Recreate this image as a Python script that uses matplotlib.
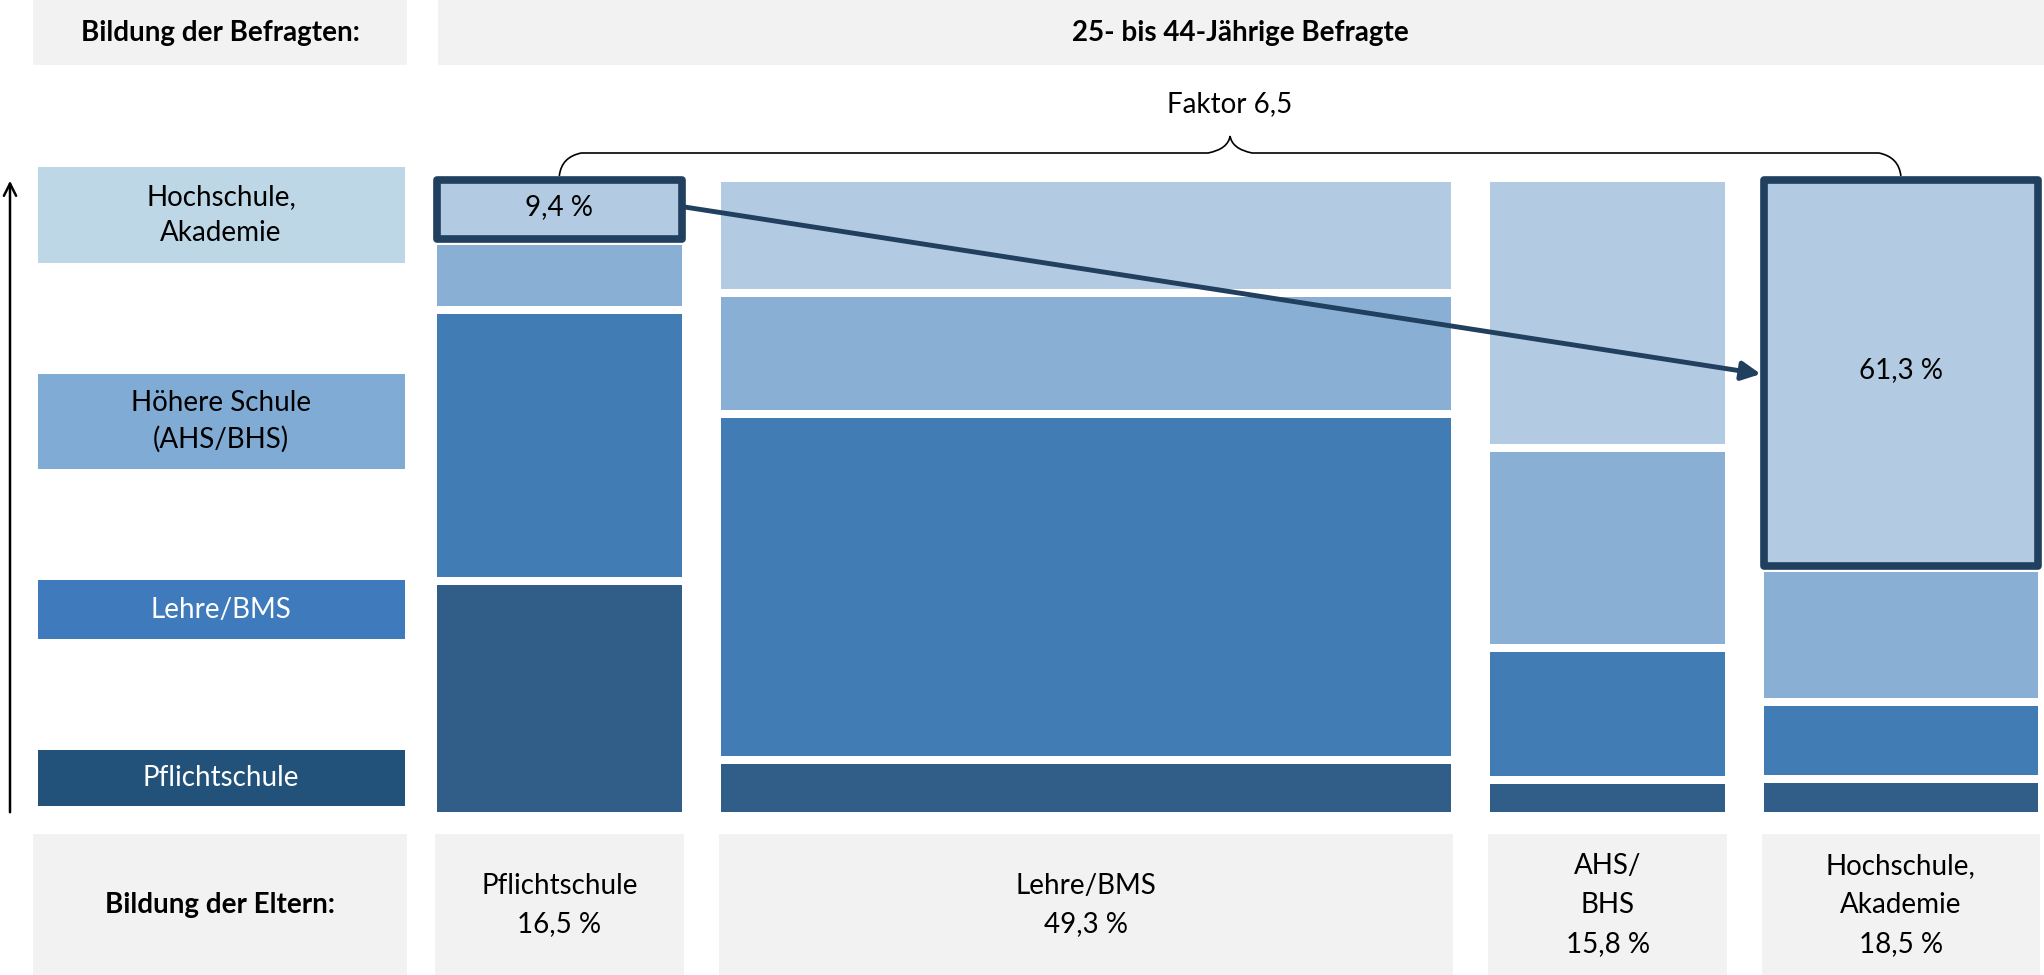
import matplotlib.pyplot as plt
from matplotlib.patches import Rectangle, PathPatch
from matplotlib.path import Path

plt.rcParams['font.family'] = ['Lato', 'DejaVu Sans']

# Daten
eltern = ["Pflichtschule", "Lehre/BMS", "AHS/\nBHS", "Hochschule,\nAkademie"]
eltern_anteil = [16.5, 49.3, 15.8, 18.5]
stufen = ["Pflichtschule", "Lehre/BMS", "Höhere Schule\n(AHS/BHS)", "Hochschule,\nAkademie"]
# Anteile der Befragten je Elternbildung (von unten nach oben: Pflicht, Lehre, Höhere, Hochschule)
pflicht = [36.7, 8.2, 5.1, 5.2]
lehre = [43.0, 55.0, 21.0, 12.2]
hoehere = [10.9, 19.2, 31.7, 21.3]
hochschule = [9.4, 17.6, 42.2, 61.3]
faktor = "Faktor 6,5"

bar_farben = ["#305e88", "#417cb4", "#8aafd4", "#b2cbe2"]
label_farben = ["#22527a", "#3f7bbc", "#7fabd5", "#bed7e6"]
label_text = ["white", "white", "black", "black"]
grau = "#f2f2f2"
dunkel = "#213f5e"
fs = 20

fig = plt.figure(figsize=(20.44, 9.75), dpi=100)
ax = fig.add_axes([0, 0, 1, 1])
ax.set_xlim(0, 2044)
ax.set_ylim(975, 0)
ax.axis("off")

x0, x1 = 437, 2038
gap_x = 39
y_top, y_bot = 182, 812
gap_y = 8
breite_gesamt = x1 - x0 - gap_x * (len(eltern) - 1)
hoehe = y_bot - y_top

# Kopfzeile
ax.add_patch(Rectangle((33, 0), 374, 65, color=grau, lw=0))
ax.add_patch(Rectangle((438, 0), 1606, 65, color=grau, lw=0))
ax.text(220, 33, "Bildung der Befragten:", ha="center", va="center", fontsize=fs, fontweight="bold")
ax.text(1240, 33, "25- bis 44-Jährige Befragte", ha="center", va="center", fontsize=fs, fontweight="bold")

# Fußzeile
ax.add_patch(Rectangle((33, 834), 374, 141, color=grau, lw=0))
ax.text(220, 905, "Bildung der Eltern:", ha="center", va="center", fontsize=fs, fontweight="bold")

# Stufenlabels links
label_y = [(750, 806), (580, 639), (374, 469), (167, 263)]
for i, (ya, yb) in enumerate(label_y):
    ax.add_patch(Rectangle((38, ya), 367, yb - ya, color=label_farben[i], lw=0))
    ax.text(221, (ya + yb) / 2, stufen[i], ha="center", va="center", fontsize=fs,
            color=label_text[i], linespacing=1.45)

ax.annotate("", xy=(10, 178), xytext=(10, 815),
            arrowprops=dict(arrowstyle="->", lw=1.8, color="black", mutation_scale=22))

# Mosaik
werte = list(zip(pflicht, lehre, hoehere, hochschule))
x = x0
spalten = []
for j, anteil in enumerate(eltern_anteil):
    w = breite_gesamt * anteil / sum(eltern_anteil)
    y = y_bot
    segs = []
    for k, v in enumerate(werte[j]):
        h = hoehe * v / 100
        ya = y - h + (gap_y / 2 if k < 3 else 0)
        yb = y - (gap_y / 2 if k > 0 else 0)
        ax.add_patch(Rectangle((x, ya), w, yb - ya, color=bar_farben[k], lw=0))
        segs.append((ya, yb))
        y -= h
    spalten.append((x, w, segs))
    ax.add_patch(Rectangle((x - 2, 834), w + 4, 141, color=grau, lw=0))
    ax.text(x + w / 2, 905, eltern[j] + "\n" + f"{anteil:.1f} %".replace(".", ","),
            ha="center", va="center", fontsize=fs, linespacing=1.6)
    x += w + gap_x

# Hervorhebungen
for j in (0, 3):
    xs, w, segs = spalten[j]
    ya = y_top - 2
    yb = segs[3][1] + 2
    ax.add_patch(Rectangle((xs, ya), w, yb - ya, fill=False, ec=dunkel, lw=5.5, joinstyle="round"))
    ax.text(xs + w / 2, (ya + yb) / 2 - 3,
            f"{hochschule[j]:.1f} %".replace(".", ","), ha="center", va="center", fontsize=fs)

xs0, w0, segs0 = spalten[0]
xs3, w3, segs3 = spalten[3]
ax.annotate("", xy=(xs3 - 3, 374), xytext=(xs0 + w0 + 3, 207),
            arrowprops=dict(arrowstyle="-|>", lw=3.5, color=dunkel, mutation_scale=28,
                            shrinkA=0, shrinkB=0))

# Klammer
bl = xs0 + w0 / 2
br = xs3 + w3 / 2
bm = (bl + br) / 2
yl, yh, ytip, r = 176, 153, 136, 22
verts = [(bl, yl), (bl + 2, yh + 4), (bl + r, yh),
         (bm - r, yh), (bm - 2, yh - 4), (bm, ytip),
         (bm + 2, yh - 4), (bm + r, yh),
         (br - r, yh), (br - 2, yh + 4), (br, yl)]
codes = [Path.MOVETO, Path.CURVE3, Path.CURVE3,
         Path.LINETO, Path.CURVE3, Path.CURVE3,
         Path.CURVE3, Path.CURVE3,
         Path.LINETO, Path.CURVE3, Path.CURVE3]
ax.add_patch(PathPatch(Path(verts, codes), fill=False, ec="black", lw=1.2))
ax.text(bm, 104, faktor, ha="center", va="center", fontsize=fs)

fig.savefig("out.png", dpi=100)
